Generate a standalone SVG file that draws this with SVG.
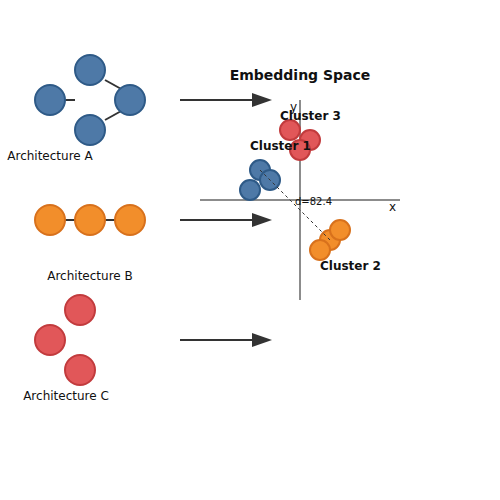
<svg xmlns="http://www.w3.org/2000/svg" width="500" height="500" viewBox="0 0 500 500">
<style>
text{font-family:"DejaVu Sans",Verdana,sans-serif;fill:#111}
.lbl{font-size:12px;text-anchor:middle}
.cl{font-size:12px;font-weight:bold}
.b{fill:#4e79a7;stroke:#2e5a87;stroke-width:2}
.o{fill:#f28e2b;stroke:#d8711c;stroke-width:2}
.r{fill:#e15759;stroke:#c23b3d;stroke-width:2}
.e{stroke:#333;stroke-width:2}
.ax{stroke:#666;stroke-width:1.5}
.arr{stroke:#333;stroke-width:2;fill:none}
</style>
<defs>
<marker id="ah" markerWidth="10" markerHeight="7" refX="0" refY="3.5" orient="auto" markerUnits="strokeWidth">
<polygon points="0 0,10 3.5,0 7" fill="#333"/>
</marker>
</defs>
<rect width="500" height="500" fill="#fff"/>
<g id="archA">
<line class="e" x1="65" y1="100" x2="75" y2="100"/>
<line class="e" x1="105" y1="80" x2="123" y2="90"/>
<line class="e" x1="105" y1="120" x2="123" y2="110"/>
<circle class="b" cx="50" cy="100" r="15"/>
<circle class="b" cx="90" cy="70" r="15"/>
<circle class="b" cx="130" cy="100" r="15"/>
<circle class="b" cx="90" cy="130" r="15"/>
<text class="lbl" x="50" y="160">Architecture A</text>
</g>
<g id="archB">
<line class="e" x1="65" y1="220" x2="75" y2="220"/>
<line class="e" x1="105" y1="220" x2="115" y2="220"/>
<circle class="o" cx="50" cy="220" r="15"/>
<circle class="o" cx="90" cy="220" r="15"/>
<circle class="o" cx="130" cy="220" r="15"/>
<text class="lbl" x="90" y="280">Architecture B</text>
</g>
<g id="archC">
<circle class="r" cx="80" cy="310" r="15"/>
<circle class="r" cx="50" cy="340" r="15"/>
<circle class="r" cx="80" cy="370" r="15"/>
<text class="lbl" x="66" y="400">Architecture C</text>
</g>
<g id="connectors">
<line class="arr" x1="180" y1="100" x2="252" y2="100" marker-end="url(#ah)"/>
<line class="arr" x1="180" y1="220" x2="252" y2="220" marker-end="url(#ah)"/>
<line class="arr" x1="180" y1="340" x2="252" y2="340" marker-end="url(#ah)"/>
</g>
<g id="embedding">
<text x="300" y="80" style="font-size:14px;font-weight:bold;text-anchor:middle">Embedding Space</text>
<line class="ax" x1="200" y1="200" x2="400" y2="200"/>
<line class="ax" x1="300" y1="100" x2="300" y2="300"/>
<text x="290" y="111" style="font-size:12px">y</text>
<text x="389" y="211" style="font-size:12px">x</text>
<circle class="r" cx="290" cy="130" r="10"/>
<circle class="r" cx="310" cy="140" r="10"/>
<circle class="r" cx="300" cy="150" r="10"/>
<circle class="b" cx="260" cy="170" r="10"/>
<circle class="b" cx="270" cy="180" r="10"/>
<circle class="b" cx="250" cy="190" r="10"/>
<circle class="o" cx="330" cy="240" r="10"/>
<circle class="o" cx="340" cy="230" r="10"/>
<circle class="o" cx="320" cy="250" r="10"/>
<line x1="260" y1="170" x2="330" y2="240" stroke="#333" stroke-width="1" stroke-dasharray="3,3"/>
<text x="295" y="205" style="font-size:10px">d=82.4</text>
<text class="cl" x="280" y="120">Cluster 3</text>
<text class="cl" x="250" y="150">Cluster 1</text>
<text class="cl" x="320" y="270">Cluster 2</text>
</g>
</svg>
